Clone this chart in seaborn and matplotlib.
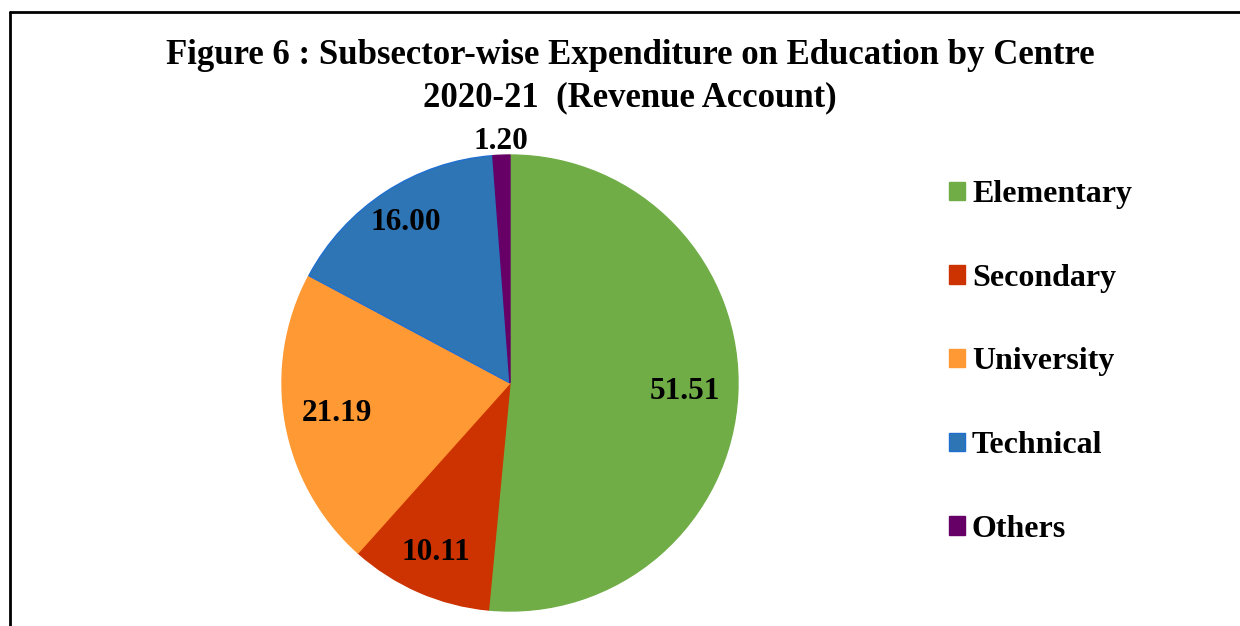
import numpy as np
import matplotlib
matplotlib.use("Agg")
import matplotlib.pyplot as plt
from matplotlib.lines import Line2D
import seaborn as sns

# data (share of revenue expenditure, %)
subsectors = ["Elementary", "Secondary", "University", "Technical", "Others"]
shares = [51.51, 10.11, 21.19, 16.00, 1.20]
share_labels = ["51.51", "10.11", "21.19", "16.00", "1.20"]
label_dist = [0.77, 0.81, 0.77, 0.84, 1.06]

colors = ["#70AD47", "#CC3300", "#FF9933", "#2E75B6", "#660066"]
edges = ["#70AD47", "#CC3300", "#FF9933", "#1F6FD0", "#660066"]


def main():
    sns.set_theme(style="white")
    plt.rcParams["font.family"] = ["Liberation Serif", "DejaVu Serif"]
    plt.rcParams["font.weight"] = "bold"
    plt.rcParams["text.color"] = "black"
    pal = sns.color_palette(colors)

    fig = plt.figure(figsize=(12.4, 6.26), dpi=100)
    ax = fig.add_axes([282 / 1240, 15 / 626, 456 / 1240, 456 / 626])

    wedges, _ = ax.pie(shares, colors=pal, startangle=90, counterclock=False,
                       radius=1.0, wedgeprops=dict(linewidth=1))
    for w, ec in zip(wedges, edges):
        w.set_edgecolor(ec)
    ax.set_xlim(-1, 1)
    ax.set_ylim(-1, 1)
    ax.set_aspect("equal")
    ax.axis("off")

    # value labels, angle taken from each wedge
    for w, lab, d in zip(wedges, share_labels, label_dist):
        ang = np.deg2rad((w.theta1 + w.theta2) / 2)
        ax.text(d * np.cos(ang), d * np.sin(ang), lab, ha="center", va="center",
                fontsize=22.5, fontweight="bold", color="black", clip_on=False)

    fig.text(630 / 1240, 1 - 55 / 626,
             "Figure 6 : Subsector-wise Expenditure on Education by Centre",
             ha="center", va="center", fontsize=25, fontweight="bold", color="black")
    fig.text(630 / 1240, 1 - 98 / 626, "2020-21  (Revenue Account)",
             ha="center", va="center", fontsize=25, fontweight="bold", color="black")

    handles = [plt.Rectangle((0, 0), 1, 1, facecolor=c, edgecolor=e)
               for c, e in zip(pal, edges)]
    leg = fig.legend(handles, subsectors, loc="center left",
                     bbox_to_anchor=(933 / 1240, 1 - 362 / 626), frameon=False,
                     prop=dict(size=23, weight="bold"), labelspacing=1.71,
                     handlelength=0.5, handleheight=0.5, handletextpad=0.22,
                     borderpad=0)
    for t in leg.get_texts():
        t.set_color("black")

    # frame lines (left and top)
    fig.add_artist(Line2D([10 / 1240, 10 / 1240], [0, 1 - 12 / 626],
                          color="black", linewidth=2, transform=fig.transFigure))
    fig.add_artist(Line2D([10 / 1240, 1], [1 - 12 / 626, 1 - 12 / 626],
                          color="black", linewidth=2, transform=fig.transFigure))

    fig.savefig("out.png", dpi=100, facecolor="white")


if __name__ == "__main__":
    main()
